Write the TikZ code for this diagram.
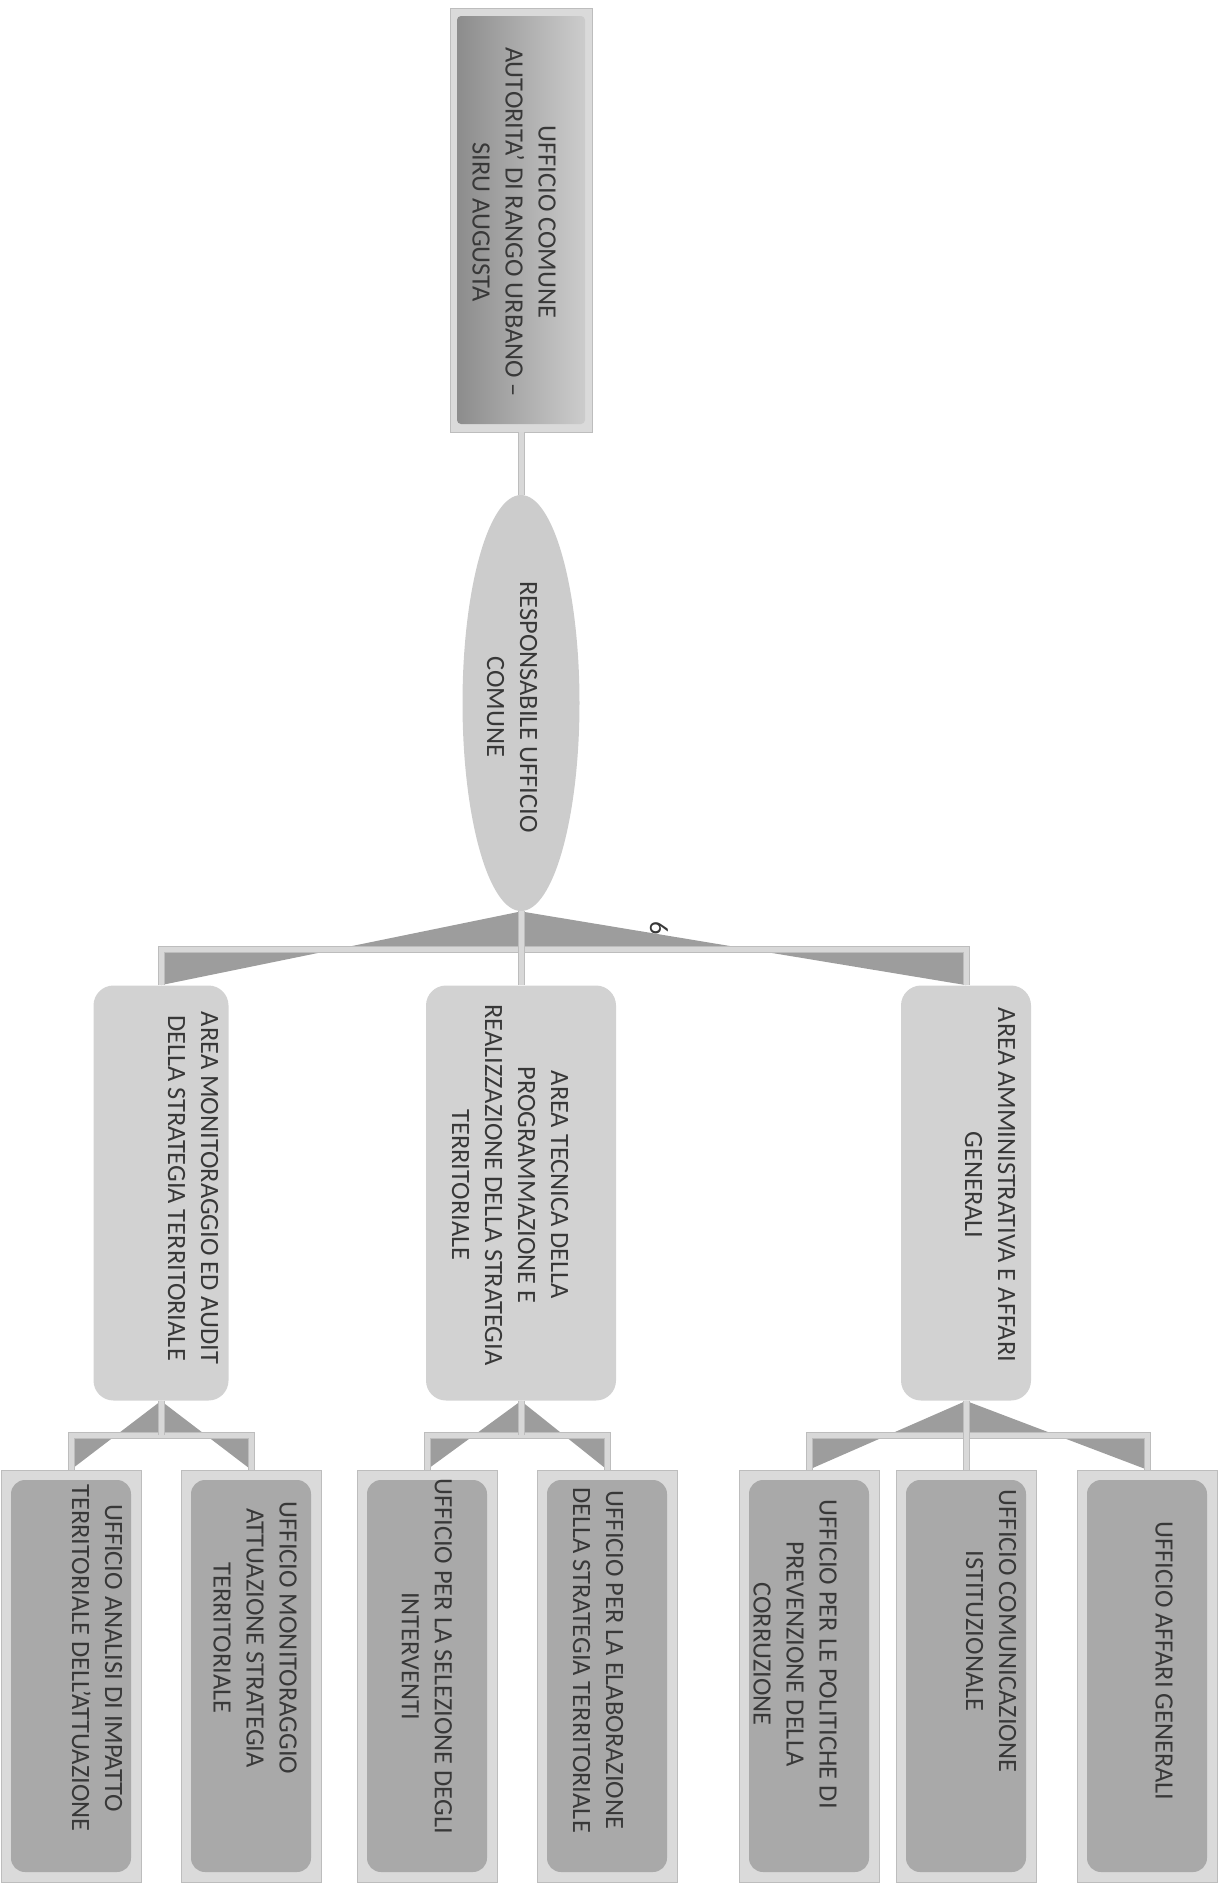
\documentclass[tikz,border=0pt]{standalone}
\usepackage{fontspec}
\setmainfont{Carlito}
\usetikzlibrary{shapes.geometric,positioning}

\definecolor{framegray}{HTML}{DADADA}
\definecolor{edgegray}{HTML}{BDBDBD}
\definecolor{panelgray}{HTML}{A9A9A9}
\definecolor{areagray}{HTML}{D2D2D2}
\definecolor{wedgegray}{HTML}{9D9D9D}
\definecolor{linegray}{HTML}{D8D8D8}
\definecolor{inkgray}{HTML}{383838}

\tikzset{
    lbl/.style={rotate=-90, align=center, inner sep=0pt, text=inkgray,
        font=\fontsize{13.2}{16.5}\selectfont},
    headbox/.style={draw=edgegray, fill=framegray, minimum width=71pt,
        minimum height=212pt, inner sep=0pt},
    headpanel/.style={left color=black!45, right color=black!20, rounded corners=2pt,
        minimum width=64pt, minimum height=204pt, inner sep=0pt},
    respnode/.style={ellipse, fill=black!20, minimum width=58.5pt,
        minimum height=208pt, inner sep=0pt},
    areabox/.style={fill=areagray, rounded corners=10pt, minimum height=207.5pt,
        inner sep=0pt},
    gcframe/.style={draw=edgegray, fill=framegray, minimum width=70pt,
        minimum height=206pt, inner sep=0pt},
    gcpanel/.style={fill=panelgray, rounded corners=7pt, minimum width=60pt,
        minimum height=196pt, inner sep=0pt},
    conn/.style={draw=edgegray, double=linegray, line width=0.5pt, double distance=2.5pt},
    wedge/.style={fill=wedgegray},
}

\begin{document}
\begin{tikzpicture}[x=0.5pt, y=-0.5pt]
    \useasboundingbox (0,0) rectangle (1224,1886);

    % Top office
    \node[headbox] (ufficio) at (521,220) {};
    \node[headpanel] (ufficiop) at (ufficio) {};
    \node[lbl] (ufficiot) at (514,222) {UFFICIO COMUNE\\AUTORITA' DI RANGO URBANO –\\SIRU AUGUSTA};

    % Responsabile
    \node[respnode] (resp) at (521,703) {};
    \node[lbl] (respt) at (512,707) {RESPONSABILE UFFICIO\\COMUNE};
    \draw[conn] (ufficio.south) -- (resp.north);
    \node[lbl] (pnum) at (659,928) {6};

    % Areas
    \node[areabox, minimum width=67.5pt] (monit) at (161,1193) {};
    \node[areabox, minimum width=95pt] (tecn) at (521,1193) {};
    \node[areabox, minimum width=65pt] (ammin) at (966,1193) {};
    \node[lbl] (monitt) at (193,1188) {AREA MONITORAGGIO ED AUDIT\\DELLA STRATEGIA TERRITORIALE};
    \node[lbl] (tecnt) at (510,1185) {AREA TECNICA DELLA\\PROGRAMMAZIONE E\\REALIZZAZIONE DELLA STRATEGIA\\TERRITORIALE};
    \node[lbl] (ammint) at (990,1185) {AREA AMMINISTRATIVA E AFFARI\\GENERALI};

    \coordinate (bar1) at (521,949);
    \fill[wedge] (resp.south) -- (resp.south |- bar1) -- (monit.north |- bar1) -- (monit.north) -- cycle;
    \fill[wedge] (resp.south) -- (resp.south |- bar1) -- (ammin.north |- bar1) -- (ammin.north) -- cycle;
    \draw[conn] (monit.north) |- (bar1) -| (ammin.north);
    \draw[conn] (resp.south) -- (tecn.north);

    % Offices
    \node[gcframe] (g1) at (71,1676) {};
    \node[gcframe] (g2) at (251,1676) {};
    \node[gcframe] (g3) at (427,1676) {};
    \node[gcframe] (g4) at (607,1676) {};
    \node[gcframe] (g5) at (809,1676) {};
    \node[gcframe] (g6) at (966,1676) {};
    \node[gcframe] (g7) at (1147,1676) {};
    \node[gcpanel] (g1p) at (g1) {};
    \node[gcpanel] (g2p) at (g2) {};
    \node[gcpanel] (g3p) at (g3) {};
    \node[gcpanel] (g4p) at (g4) {};
    \node[gcpanel] (g5p) at (g5) {};
    \node[gcpanel] (g6p) at (g6) {};
    \node[gcpanel] (g7p) at (g7) {};
    \node[lbl] (g1t) at (97,1658) {UFFICIO ANALISI DI IMPATTO\\TERRITORIALE DELL'ATTUAZIONE};
    \node[lbl] (g2t) at (255,1638) {UFFICIO MONITORAGGIO\\ATTUAZIONE STRATEGIA\\TERRITORIALE};
    \node[lbl] (g3t) at (427,1656) {UFFICIO PER LA SELEZIONE DEGLI\\INTERVENTI};
    \node[lbl] (g4t) at (598,1660) {UFFICIO PER LA ELABORAZIONE\\DELLA STRATEGIA TERRITORIALE};
    \node[lbl] (g5t) at (795,1654) {UFFICIO PER LE POLITICHE DI\\PREVENZIONE DELLA\\CORRUZIONE};
    \node[lbl] (g6t) at (991,1631) {UFFICIO COMUNICAZIONE\\ISTITUZIONALE};
    \node[lbl] (g7t) at (1164,1661) {UFFICIO AFFARI GENERALI};

    % Left group
    \coordinate (bar2) at (161,1435);
    \fill[wedge] (monit.south) -- (monit.south |- bar2) -- (g1.north |- bar2) -- (g1.north) -- cycle;
    \fill[wedge] (monit.south) -- (monit.south |- bar2) -- (g2.north |- bar2) -- (g2.north) -- cycle;
    \draw[conn] (g1.north) |- (bar2) -| (g2.north);
    \draw[conn] (monit.south) -- (bar2);

    % Middle group
    \coordinate (bar3) at (521,1435);
    \fill[wedge] (tecn.south) -- (tecn.south |- bar3) -- (g3.north |- bar3) -- (g3.north) -- cycle;
    \fill[wedge] (tecn.south) -- (tecn.south |- bar3) -- (g4.north |- bar3) -- (g4.north) -- cycle;
    \draw[conn] (g3.north) |- (bar3) -| (g4.north);
    \draw[conn] (tecn.south) -- (bar3);

    % Right group
    \coordinate (bar4) at (966,1435);
    \fill[wedge] (ammin.south) -- (ammin.south |- bar4) -- (g5.north |- bar4) -- (g5.north) -- cycle;
    \fill[wedge] (ammin.south) -- (ammin.south |- bar4) -- (g7.north |- bar4) -- (g7.north) -- cycle;
    \draw[conn] (g5.north) |- (bar4) -| (g7.north);
    \draw[conn] (ammin.south) -- (g6.north);
\end{tikzpicture}
\end{document}
